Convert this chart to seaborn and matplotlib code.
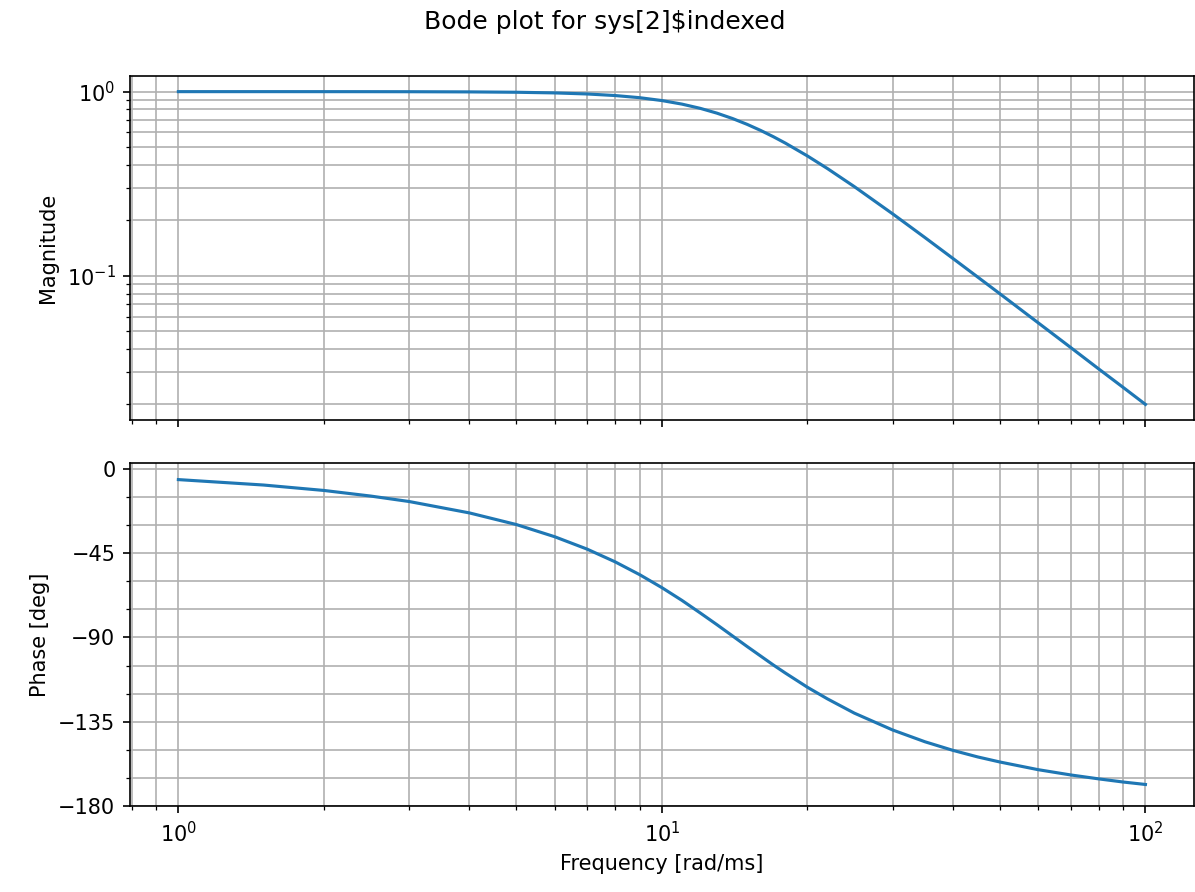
import numpy as np
import pandas as pd
import seaborn as sns
from matplotlib import pyplot as plt
from matplotlib.ticker import MultipleLocator

# values
freq = [1, 1.5, 2, 2.5, 3, 4, 5, 6, 7, 8, 9, 10, 11, 12, 13, 14, 15, 16,
        17, 18, 20, 22, 25, 30, 35, 40, 45, 50, 60, 70, 80, 90, 100]
magnitude = [1.000, 1.000, 0.9998, 0.9995, 0.999, 0.9968, 0.9923, 0.9842,
             0.9713, 0.9524, 0.9269, 0.8944, 0.8556, 0.8115, 0.7638, 0.7142,
             0.6644, 0.6156, 0.5691, 0.5253, 0.4472, 0.3819, 0.3048, 0.2169,
             0.1611, 0.1240, 0.0983, 0.0798, 0.0555, 0.0408, 0.0312, 0.0247,
             0.0200]
phase = [-5.7, -8.6, -11.5, -14.5, -17.4, -23.5, -29.7, -36.2, -42.8, -49.6,
         -56.5, -63.4, -70.2, -76.9, -83.2, -89.2, -94.8, -99.9, -104.7,
         -109.0, -116.6, -122.8, -130.4, -139.4, -145.7, -150.3, -153.8,
         -156.5, -160.6, -163.4, -165.5, -167.2, -168.5]

df = pd.DataFrame({"freq": freq, "mag": magnitude, "phase": phase})

fig = plt.figure(figsize=(1195 / 150, 892 / 150), dpi=150)
ax_mag = fig.add_axes([0.1088, 0.5291, 0.8902, 0.3857])
ax_ph = fig.add_axes([0.1088, 0.0964, 0.8902, 0.3842], sharex=ax_mag)

sns.lineplot(data=df, x="freq", y="mag", ax=ax_mag, color="#1f77b4",
             linewidth=1.5, estimator=None, sort=False)
sns.lineplot(data=df, x="freq", y="phase", ax=ax_ph, color="#1f77b4",
             linewidth=1.5, estimator=None, sort=False)

ax_mag.set_xscale("log")
ax_mag.set_yscale("log")
ax_mag.set_ylabel("Magnitude")
ax_mag.set_xlabel("")
ax_mag.tick_params(labelbottom=False)
ax_mag.grid(True, which="both", color="#b0b0b0", linewidth=0.8)

ax_ph.set_ylim(-180, 3)
ax_ph.yaxis.set_major_locator(MultipleLocator(45))
ax_ph.yaxis.set_minor_locator(MultipleLocator(15))
ax_ph.set_ylabel("Phase [deg]")
ax_ph.set_xlabel("Frequency [rad/ms]")
ax_ph.grid(True, which="both", color="#b0b0b0", linewidth=0.8)

fig.suptitle("Bode plot for sys[2]$indexed", x=0.506, y=0.975, va="center")

fig.savefig("out.png", dpi=150)
